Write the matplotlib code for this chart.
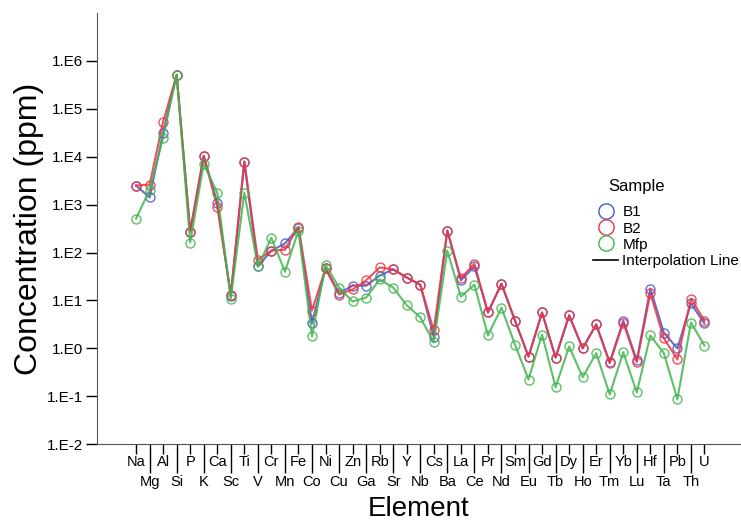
import numpy as np
import matplotlib
matplotlib.use("Agg")
import matplotlib.pyplot as plt
from matplotlib.lines import Line2D

plt.rcParams['font.family'] = ['Liberation Sans', 'DejaVu Sans']

elements = ["Na", "Mg", "Al", "Si", "P", "K", "Ca", "Sc", "Ti", "V", "Cr", "Mn", "Fe",
            "Co", "Ni", "Cu", "Zn", "Ga", "Rb", "Sr", "Y", "Nb", "Cs", "Ba", "La", "Ce",
            "Pr", "Nd", "Sm", "Eu", "Gd", "Tb", "Dy", "Ho", "Er", "Tm", "Yb", "Lu", "Hf",
            "Ta", "Pb", "Th", "U"]

# log10 of concentration (ppm)
b1_log = [3.40, 3.15, 4.50, 5.71, 2.44, 4.02, 3.04, 1.10, 3.90, 1.71, 2.04, 2.19, 2.52,
          0.52, 1.67, 1.15, 1.31, 1.31, 1.52, 1.65, 1.48, 1.33, 0.23, 2.46, 1.42, 1.71,
          0.75, 1.35, 0.58, -0.17, 0.75, -0.19, 0.69, 0.00, 0.50, -0.29, 0.58, -0.25, 1.25,
          0.33, 0.00, 0.94, 0.52]
b2_log = [3.40, 3.42, 4.73, 5.71, 2.44, 4.02, 2.96, 1.125, 3.90, 1.85, 2.04, 2.06, 2.54,
          0.79, 1.67, 1.125, 1.23, 1.42, 1.69, 1.65, 1.48, 1.33, 0.375, 2.46, 1.46, 1.77,
          0.75, 1.35, 0.58, -0.17, 0.75, -0.19, 0.69, 0.00, 0.50, -0.31, 0.54, -0.29, 1.15,
          0.21, -0.23, 1.04, 0.58]
mfp_log = [2.71, 3.31, 4.40, 5.71, 2.21, 3.85, 3.25, 1.04, 3.25, 1.71, 2.31, 1.60, 2.46,
           0.25, 1.75, 1.27, 0.98, 1.06, 1.44, 1.27, 0.90, 0.65, 0.125, 2.04, 1.08, 1.33,
           0.27, 0.85, 0.08, -0.65, 0.29, -0.81, 0.04, -0.60, -0.10, -0.96, -0.08, -0.92, 0.27,
           -0.10, -1.06, 0.54, 0.06]

b1 = 10 ** np.array(b1_log)
b2 = 10 ** np.array(b2_log)
mfp = 10 ** np.array(mfp_log)

x = np.arange(len(elements))

fig = plt.figure(figsize=(7.41, 5.22), dpi=100)
ax = fig.add_axes([0.131, 0.149, 0.869, 0.826])

series = [("B1", b1, "#4858c8"), ("B2", b2, "#ec3440"), ("Mfp", mfp, "#42b54d")]
for name, vals, col in series:
    ax.plot(x, vals, color=col, linewidth=1.5, alpha=0.85,
            marker='o', markersize=6.5, markerfacecolor='none',
            markeredgecolor=col, markeredgewidth=1.0)

ax.set_yscale('log')
ax.set_ylim(1e-2, 1e7)
yt = [10.0 ** k for k in range(-2, 7)]
ax.set_yticks(yt)
ax.set_yticklabels(["1.E%d" % k for k in range(-2, 7)], fontsize=11)
ax.yaxis.set_minor_locator(matplotlib.ticker.NullLocator())
ax.tick_params(axis='y', length=8, width=1, pad=2)

ax.set_xlim(-2.88, 44.7)
ax.set_xticks(x[::2])
ax.set_xticklabels(elements[::2], fontsize=10.5)
ax.set_xticks(x[1::2], minor=True)
ax.set_xticklabels(elements[1::2], minor=True, fontsize=10.5)
ax.tick_params(axis='x', which='major', length=7, width=1, pad=1)
ax.tick_params(axis='x', which='minor', length=21, width=1, pad=1)

for s in ['top', 'right']:
    ax.spines[s].set_visible(False)
for s in ['left', 'bottom']:
    ax.spines[s].set_color('#555555')

ax.set_xlabel("Element", fontsize=20, labelpad=5)
ax.set_ylabel("Concentration (ppm)", fontsize=23, labelpad=2)

handles = [Line2D([], [], linestyle='none', marker='o', markersize=11,
                  markerfacecolor='none', markeredgecolor=c, markeredgewidth=1.0)
           for _, _, c in series]
handles.append(Line2D([], [], color='black', linewidth=1.2))
labels = ["B1", "B2", "Mfp", "Interpolation Line"]
leg = ax.legend(handles, labels, loc='upper left',
                bbox_to_anchor=(0.759, 0.572), frameon=False, fontsize=11,
                handlelength=1.6, handletextpad=0.3,
                labelspacing=0.15, borderpad=0.0)
fig.text(637 / 741, 1 - 187 / 522, "Sample", fontsize=12, ha='center', va='center')

plt.savefig("out.png", dpi=100)
